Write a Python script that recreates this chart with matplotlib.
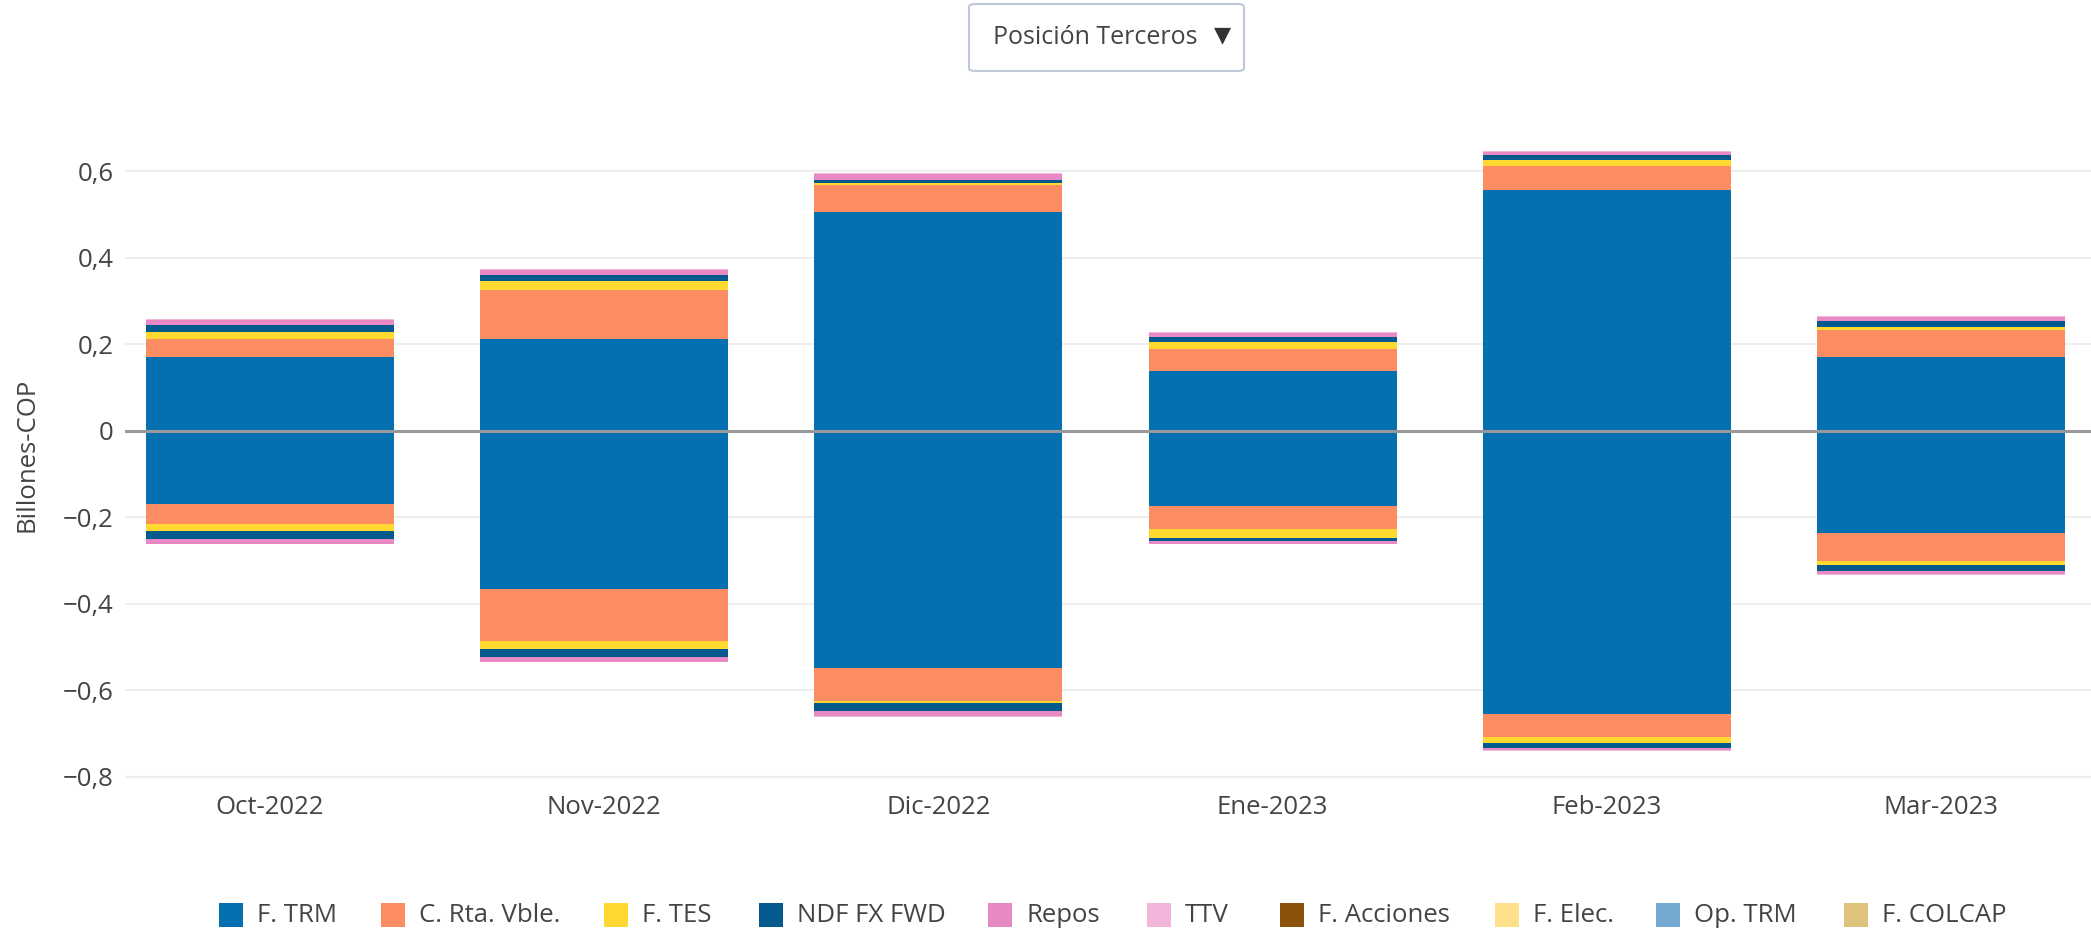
import matplotlib
matplotlib.use("Agg")
import matplotlib.pyplot as plt
from matplotlib.patches import FancyBboxPatch, Rectangle
import numpy as np

plt.rcParams['font.family'] = ['Open Sans', 'DejaVu Sans']

months = ["Oct-2022", "Nov-2022", "Dic-2022", "Ene-2023", "Feb-2023", "Mar-2023"]
series = ["F. TRM", "C. Rta. Vble.", "F. TES", "NDF FX FWD", "Repos", "TTV",
          "F. Acciones", "F. Elec.", "Op. TRM", "F. COLCAP"]
colors = ["#0570b0", "#fc8d62", "#ffd92f", "#045a8d", "#e78ac3", "#f1b6da",
          "#8c510a", "#fee08b", "#74a9cf", "#dfc27d"]

# positive side (billones COP)
pos_trm = [0.170, 0.212, 0.505, 0.139, 0.557, 0.170]
pos_rta = [0.042, 0.114, 0.064, 0.050, 0.056, 0.062]
pos_tes = [0.016, 0.019, 0.004, 0.017, 0.012, 0.007]
pos_ndf = [0.016, 0.014, 0.006, 0.010, 0.012, 0.015]
pos_repos = [0.012, 0.013, 0.014, 0.010, 0.008, 0.008]
pos_ttv = [0.002, 0.002, 0.003, 0.002, 0.002, 0.002]
pos_acc = [0.0, 0.0, 0.0, 0.0, 0.0, 0.0]
pos_elec = [0.0, 0.0, 0.0, 0.0, 0.0, 0.0]
pos_optrm = [0.0, 0.0, 0.0, 0.0, 0.0, 0.0]
pos_colcap = [0.0, 0.0, 0.0, 0.0, 0.0, 0.0]

# negative side (billones COP)
neg_trm = [-0.169, -0.366, -0.549, -0.175, -0.655, -0.237]
neg_rta = [-0.047, -0.121, -0.077, -0.052, -0.054, -0.065]
neg_tes = [-0.016, -0.018, -0.004, -0.021, -0.012, -0.009]
neg_ndf = [-0.018, -0.018, -0.019, -0.006, -0.013, -0.014]
neg_repos = [-0.011, -0.011, -0.010, -0.007, -0.005, -0.006]
neg_ttv = [-0.002, -0.002, -0.002, -0.002, -0.002, -0.002]
neg_acc = [0.0, 0.0, 0.0, 0.0, 0.0, 0.0]
neg_elec = [0.0, 0.0, 0.0, 0.0, 0.0, 0.0]
neg_optrm = [0.0, 0.0, 0.0, 0.0, 0.0, 0.0]
neg_colcap = [0.0, 0.0, 0.0, 0.0, 0.0, 0.0]

pos = [pos_trm, pos_rta, pos_tes, pos_ndf, pos_repos, pos_ttv, pos_acc, pos_elec, pos_optrm, pos_colcap]
neg = [neg_trm, neg_rta, neg_tes, neg_ndf, neg_repos, neg_ttv, neg_acc, neg_elec, neg_optrm, neg_colcap]

yticks = [-0.8, -0.6, -0.4, -0.2, 0.0, 0.2, 0.4, 0.6]
ytick_labels = ["\u22120,8", "\u22120,6", "\u22120,4", "\u22120,2", "0", "0,2", "0,4", "0,6"]

W, H = 2091, 931
fig = plt.figure(figsize=(W / 100, H / 100), dpi=100)
# layout in pixels
left_px, right_px, top_px, bot_px = 125, 2108, 121, 781
ax = fig.add_axes([left_px / W, 1 - bot_px / H, (right_px - left_px) / W, (bot_px - top_px) / H])

x = np.arange(len(months))
bw = 0.742
pb = np.zeros(len(months))
nb = np.zeros(len(months))
for i, name in enumerate(series):
    p = np.array(pos[i]); n = np.array(neg[i])
    ax.bar(x, p, bw, bottom=pb, color=colors[i], linewidth=0, zorder=3)
    ax.bar(x, n, bw, bottom=nb, color=colors[i], linewidth=0, zorder=3)
    pb += p
    nb += n

ax.set_xlim(-0.434, len(months) - 0.5)
ax.set_ylim(-0.81, 0.716)
ax.set_yticks(yticks)
ax.set_yticklabels(ytick_labels)
ax.set_xticks(x)
ax.set_xticklabels(months)
ax.tick_params(axis='both', length=0, labelsize=18.5, colors="#444444")
ax.tick_params(axis='x', pad=10)
ax.tick_params(axis='y', pad=8)
ax.grid(axis='y', color="#eeeeee", linewidth=1.5, zorder=0)
ax.axhline(0, color="#999999", linewidth=2.2, zorder=4)
for s in ax.spines.values():
    s.set_visible(False)

fig.text(27 / W, 1 - 455 / H, "Billones-COP", rotation=90, ha='center', va='center',
         fontsize=18.5, color="#444444")

# dropdown button
box = FancyBboxPatch((969 / W, 1 - 71 / H), (1244 - 969) / W, (71 - 4) / H,
                     boxstyle="round,pad=0,rounding_size=0.003", transform=fig.transFigure,
                     facecolor="white", edgecolor="#bec8d9", linewidth=1.5)
fig.patches.append(box)
fig.text(993 / W, 1 - 37 / H, "Posición Terceros", ha='left', va='center', fontsize=18, color="#444444")
fig.text(1223 / W, 1 - 35 / H, "\u25bc", ha='center', va='center', fontsize=16, color="#333333",
         family=['DejaVu Sans'])

# legend (manually laid out to match horizontal spacing)
leg_sq_x = [164, 286, 453, 569, 741, 860, 960, 1121, 1242, 1383]  # shrunk-view px
scale = W / 1568
leg_y = 915
sq = 24
for s, c, lx in zip(series, colors, leg_sq_x):
    fx = lx * scale
    fig.patches.append(Rectangle((fx / W, 1 - (leg_y + sq / 2) / H), sq / W, sq / H,
                                 transform=fig.transFigure, facecolor=c, edgecolor='none'))
    fig.text((fx + sq + 14) / W, 1 - leg_y / H, s, ha='left', va='center',
             fontsize=18.5, color="#444444")

fig.savefig("out.png", dpi=100, facecolor="white")
